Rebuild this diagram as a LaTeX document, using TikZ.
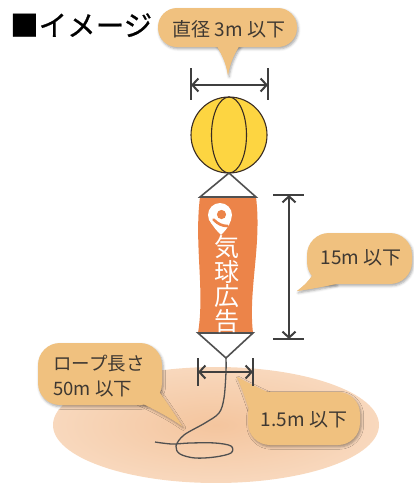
\documentclass[tikz,border=0pt]{standalone}
\usepackage{fontspec}
\newfontfamily\jpfont{Noto Sans CJK JP}
\newfontfamily\jptitle[FakeBold=0.7]{Noto Sans CJK JP}
\usetikzlibrary{arrows.meta,shadows.blur}
\definecolor{bubblefill}{HTML}{F0C17F}
\definecolor{bubbletext}{HTML}{3E3832}
\definecolor{balloonyellow}{HTML}{FDD541}
\definecolor{balloonline}{HTML}{3A2C22}
\definecolor{bannerorange}{HTML}{EC8449}
\definecolor{wiregray}{HTML}{505050}
\definecolor{dimgray}{HTML}{3F3F3F}
\definecolor{groundin}{HTML}{F4C59E}
\definecolor{groundout}{HTML}{F8D8BD}

\begin{document}
\begin{tikzpicture}[x=1pt,y=-1pt,
  bubble/.style={fill=bubblefill, blur shadow={shadow xshift=1.2pt, shadow yshift=-1.8pt, shadow blur radius=2.5pt, shadow opacity=35}},
  tailfill/.style={fill=bubblefill},
  lbl/.style={inner sep=0pt, text=bubbletext, align=left, font=\jpfont\fontsize{19}{25}\selectfont},
  dimbar/.style={draw=dimgray, line width=2pt},
  dimarrow/.style={draw=dimgray, line width=2pt, {Straight Barb[length=6pt,width=13pt]}-{Straight Barb[length=6pt,width=13pt]}},
  wire/.style={draw=wiregray, line width=1.6pt, line join=miter},
  rope/.style={draw=wiregray, line width=1.3pt},
]
\useasboundingbox (0,0) rectangle (414,483);

% ground patch
\shade[inner color=groundin, outer color=groundout] (216,425) ellipse[x radius=163pt, y radius=58pt];

% title
\node[anchor=base west, inner sep=0pt, font=\jptitle\fontsize{28.5}{32}\selectfont] (title) at (10,36) {■イメージ};

% ---- callout: diameter
\path[bubble] (214,42) .. controls (221,52) and (226,62) .. (228,75) .. controls (230,62) and (235,52) .. (242,42) -- cycle;
\path[bubble, rounded corners=19pt] (158,8) rectangle (297,47);
\fill[tailfill] (214,42) .. controls (221,52) and (226,62) .. (228,75) .. controls (230,62) and (235,52) .. (242,42) -- cycle;
\node[lbl] (diamlabel) at (229,29) {直径 3m 以下};

% ---- callout: height
\path[bubble] (316,270) .. controls (310,280) and (304,286) .. (297,291) .. controls (310,289) and (322,287) .. (336,284) -- cycle;
\path[bubble, rounded corners=22pt] (307,233) rectangle (412,284);
\fill[tailfill] (316,270) .. controls (310,280) and (304,286) .. (297,291) .. controls (310,289) and (322,287) .. (336,284) -- cycle;
\node[lbl] (heightlabel) at (361,258) {15m 以下};

% ---- callout: rope length
\path[bubble] (135,400) .. controls (152,408) and (168,416) .. (182,426) .. controls (174,413) and (166,402) .. (158,390) -- cycle;
\path[bubble, rounded corners=22pt] (38,343) rectangle (162,405);
\fill[tailfill] (135,400) .. controls (152,408) and (168,416) .. (182,426) .. controls (174,413) and (166,402) .. (158,390) -- cycle;
\node[lbl, anchor=west, font=\jpfont\fontsize{18.5}{25}\selectfont] (ropelabel) at (53,376) {ロープ長さ\\50m 以下};

% ---- callout: width
\path[bubble] (250,412) .. controls (246,400) and (242,388) .. (237,377) .. controls (248,383) and (260,389) .. (274,395) -- cycle;
\path[bubble, rounded corners=22pt] (248,392) rectangle (360,445);
\fill[tailfill] (250,412) .. controls (246,400) and (242,388) .. (237,377) .. controls (248,383) and (260,389) .. (274,395) -- cycle;
\node[lbl] (widthlabel) at (304,420) {1.5m 以下};

% ---- balloon
\node[circle, draw=balloonline, fill=balloonyellow, line width=1.1pt, minimum size=76pt, inner sep=0pt] (balloon) at (229,135) {};
\draw[balloonline, line width=1.1pt] (balloon.center) ellipse[x radius=17.5pt, y radius=38pt];

% ---- banner
\coordinate (hangtop) at (229,173);
\coordinate (bannerTL) at (200,197);
\coordinate (bannerTR) at (256,197);
\coordinate (bannerBL) at (198,333);
\coordinate (bannerBR) at (253,333);
\coordinate (ropetop) at (226,358);
\fill[bannerorange] (bannerTL) -- (bannerTR) .. controls (262,245) and (248,290) .. (bannerBR) -- (bannerBL) .. controls (205,290) and (194,245) .. (bannerTL) -- cycle;
\draw[wire] (bannerTL) -- (hangtop) -- (bannerTR) -- cycle;
\draw[wire] (bannerBL) -- (ropetop) -- (bannerBR) -- cycle;

% pin mark
\fill[white] (220,215) circle[radius=12pt];
\fill[white] (209.5,220) .. controls (213,227) and (218,232) .. (221,235) .. controls (224,232) and (229,227) .. (231,220) -- cycle;
\fill[bannerorange] (221.5,214.5) circle[radius=4.6pt];
\draw[bannerorange, line width=2.6pt, line cap=round] (213.5,219.5) .. controls (218,224) and (222,226) .. (227.5,226);

\node[inner sep=0pt, text=white, align=center, font=\jpfont\fontsize{25}{24.5}\selectfont] (adtext) at (227,284) {気\\球\\広\\告};

% ---- rope
\draw[rope] plot[smooth, tension=0.55] coordinates {(226,358) (226,372) (224,398) (219,413) (205,423) (184,435) (176,446) (180,454) (195,458) (215,457) (231,453) (231,446) (215,443) (190,443) (172,444) (155,442)};

% ---- dimension: diameter
\coordinate (dtl) at (191,68); \coordinate (dbl) at (191,100);
\coordinate (dtr) at (268,68); \coordinate (dbr) at (268,100);
\coordinate (dl) at (191,85); \coordinate (dr) at (268,85);
\draw[dimbar] (dtl) -- (dbl);
\draw[dimbar] (dtr) -- (dbr);
\draw[dimarrow] (dl) -- (dr);

% ---- dimension: height
\coordinate (htl) at (273,195); \coordinate (htr) at (304,195);
\coordinate (hbl) at (273,339); \coordinate (hbr) at (304,339);
\coordinate (ht) at (289,195); \coordinate (hb) at (289,339);
\draw[dimbar] (htl) -- (htr);
\draw[dimbar] (hbl) -- (hbr);
\draw[dimarrow] (ht) -- (hb);

% ---- dimension: banner width
\coordinate (wtl) at (198,358); \coordinate (wbl) at (198,386);
\coordinate (wtr) at (253,358); \coordinate (wbr) at (253,386);
\coordinate (wl) at (198,372); \coordinate (wr) at (253,372);
\draw[dimbar] (wtl) -- (wbl);
\draw[dimbar] (wtr) -- (wbr);
\draw[dimarrow] (wl) -- (wr);
\end{tikzpicture}
\end{document}
